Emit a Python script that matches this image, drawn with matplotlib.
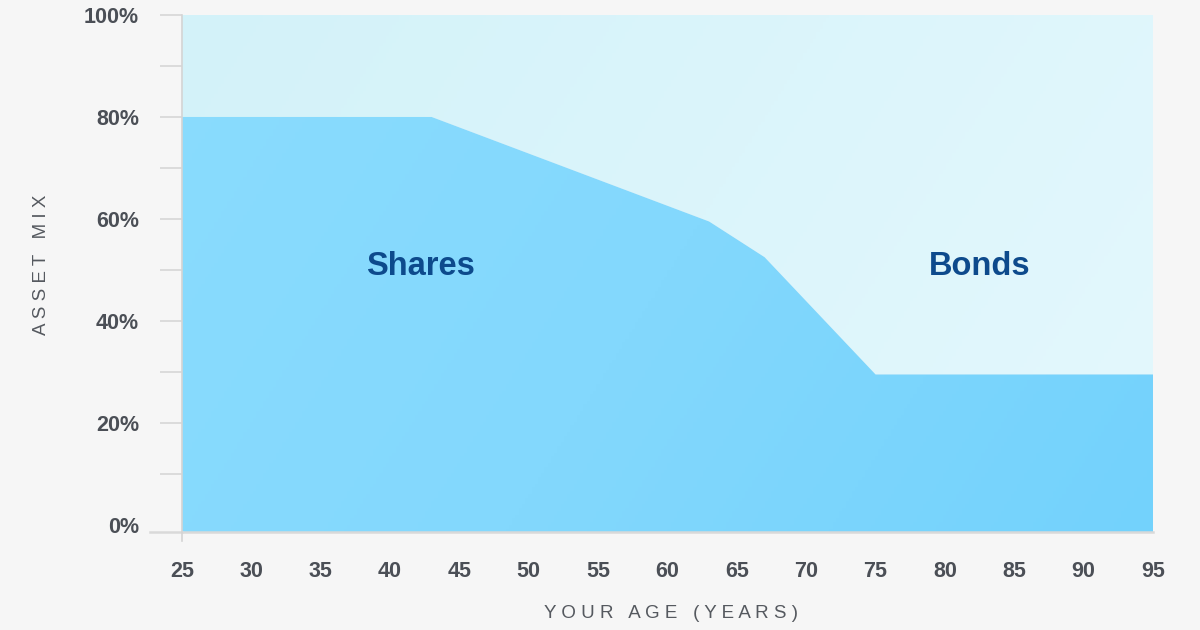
import numpy as np
import matplotlib.pyplot as plt
from matplotlib.lines import Line2D
from matplotlib.colors import LinearSegmentedColormap

# Datos del gráfico (edad vs. porcentaje en acciones)
edades = [25, 43, 63, 67, 75, 95]
acciones = [80, 80, 59.5, 52.5, 29.5, 29.5]
ticks_x = list(range(25, 100, 5))
ticks_y = [0, 20, 40, 60, 80, 100]
ticks_y_menores = [10, 30, 50, 70, 90]

fondo = '#f6f6f6'
gris_texto = '#4b4f56'
gris_linea = '#d4d4d4'
azul_texto = '#0d4a8c'

plt.rcParams['font.family'] = ['Liberation Sans', 'DejaVu Sans']

fig = plt.figure(figsize=(12, 6.3), dpi=100)
fig.set_facecolor(fondo)
ax = fig.add_axes([182 / 1200, 1 - 532 / 630, (1153 - 182) / 1200, (532 - 15) / 630])
ax.set_facecolor(fondo)

ymin = -1.4
ax.set_xlim(25, 95)
ax.set_ylim(ymin, 100)

# Áreas con degradado suave
x = np.array(edades, dtype=float)
y = np.array(acciones, dtype=float)
zona_bonos = ax.fill_between(x, y, 100, color='none', lw=0)
zona_acciones = ax.fill_between(x, ymin, y, color='none', lw=0)

gx, gy = np.meshgrid(np.linspace(0, 1, 300), np.linspace(0, 1, 150))
grad = 0.75 * gx + 0.25 * (1 - gy)

cmap_bonos = LinearSegmentedColormap.from_list('bonos', ['#d3f2f9', '#e4f8fd'])
cmap_acciones = LinearSegmentedColormap.from_list('acciones', ['#8adcfd', '#83d8fd', '#73d2fc'])

img_b = ax.imshow(grad, cmap=cmap_bonos, extent=[25, 95, ymin, 100], origin='lower',
                  aspect='auto', zorder=1)
img_b.set_clip_path(zona_bonos.get_paths()[0], transform=ax.transData)
img_a = ax.imshow(grad, cmap=cmap_acciones, extent=[25, 95, ymin, 100], origin='lower',
                  aspect='auto', zorder=1)
img_a.set_clip_path(zona_acciones.get_paths()[0], transform=ax.transData)

ax.set_xlim(25, 95)
ax.set_ylim(ymin, 100)

# Ejes
for lado in ['top', 'right']:
    ax.spines[lado].set_visible(False)
ax.spines['left'].set_color(gris_linea)
ax.spines['left'].set_linewidth(1.2)
ax.spines['left'].set_zorder(3)
ax.spines['bottom'].set_color('#d9d9d9')
ax.spines['bottom'].set_linewidth(1.8)
ax.spines['bottom'].set_zorder(3)

ax.set_xticks(ticks_x)
ax.set_xticklabels([str(t) for t in ticks_x])
ax.tick_params(axis='x', length=0, pad=21, labelsize=15.5, labelcolor=gris_texto)

ax.set_yticks(ticks_y)
ax.set_yticklabels([f'{t}%' for t in ticks_y])
ax.set_yticks(ticks_y_menores, minor=True)
ax.tick_params(axis='y', which='both', length=16, width=1.1, color=gris_linea,
               pad=15, labelsize=15.5, labelcolor=gris_texto)
ax.yaxis.get_major_ticks()[0].tick1line.set_visible(False)

for lab in ax.get_xticklabels() + ax.get_yticklabels():
    lab.set_fontweight('bold')

# Línea base extendida y pequeña marca bajo el eje
fig.add_artist(Line2D([150 / 1200, 182 / 1200], [1 - 532 / 630] * 2,
                      color='#d9d9d9', lw=1.8))
fig.add_artist(Line2D([182 / 1200, 182 / 1200], [1 - 532 / 630, 1 - 541 / 630],
                      color=gris_linea, lw=1.2))

# Etiquetas de las zonas
ax.text(42.2, 50.6, 'Shares', fontsize=23.5, fontweight='bold', color=azul_texto,
        ha='center', va='center', zorder=4)
ax.text(82.5, 50.6, 'Bonds', fontsize=23.5, fontweight='bold', color=azul_texto,
        ha='center', va='center', zorder=4)

# Títulos de los ejes con espaciado entre letras
fig.text(671 / 1200, 1 - 613 / 630, 'Y O U R   A G E   ( Y E A R S )', fontsize=13.5,
         color='#55595f', ha='center', va='center')
fig.text(42 / 1200, 1 - 265 / 630, 'A S S E T   M I X', fontsize=13.5,
         color='#55595f', ha='center', va='center', rotation=90)

plt.savefig('out.png', dpi=100, facecolor=fondo)
